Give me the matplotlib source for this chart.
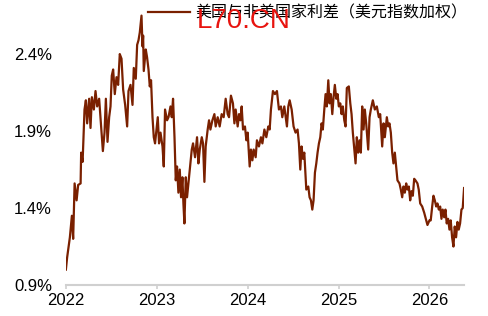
import numpy as np
import pandas as pd
import matplotlib
matplotlib.use('Agg')
import matplotlib.pyplot as plt
import matplotlib.dates as mdates
from matplotlib.ticker import FuncFormatter

plt.rcParams['font.family'] = ['Liberation Sans', 'Noto Sans CJK SC', 'DejaVu Sans']

# time in years after 2022-01-01
t_year = [
    0.000, 0.014, 0.044, 0.066, 0.080, 0.096, 0.118, 0.135, 0.162, 0.168,
    0.184, 0.190, 0.205, 0.220, 0.234, 0.256, 0.271, 0.286, 0.308, 0.326,
    0.344, 0.366, 0.388, 0.407, 0.425, 0.440, 0.458, 0.476, 0.491, 0.505,
    0.520, 0.538, 0.557, 0.575, 0.593, 0.612, 0.630, 0.652, 0.674, 0.689,
    0.711, 0.733, 0.747, 0.769, 0.784, 0.799, 0.813, 0.832, 0.843, 0.850,
    0.857, 0.879, 0.893, 0.909, 0.923, 0.937, 0.953, 0.967, 0.981, 0.997,
    1.011, 1.025, 1.041, 1.063, 1.077, 1.091, 1.113, 1.129, 1.151, 1.165,
    1.179, 1.195, 1.209, 1.223, 1.238, 1.253, 1.267, 1.282, 1.293, 1.304,
    1.319, 1.333, 1.348, 1.363, 1.385, 1.399, 1.421, 1.443, 1.458, 1.473,
    1.495, 1.509, 1.524, 1.538, 1.560, 1.575, 1.590, 1.612, 1.634, 1.648,
    1.670, 1.692, 1.714, 1.736, 1.758, 1.780, 1.795, 1.816, 1.838, 1.854,
    1.868, 1.890, 1.905, 1.920, 1.934, 1.949, 1.970, 1.986, 2.000, 2.022,
    2.036, 2.052, 2.066, 2.088, 2.102, 2.124, 2.146, 2.162, 2.184, 2.205,
    2.227, 2.242, 2.256, 2.278, 2.300, 2.322, 2.344, 2.366, 2.381, 2.403,
    2.418, 2.432, 2.447, 2.462, 2.484, 2.505, 2.527, 2.549, 2.564, 2.579,
    2.593, 2.608, 2.623, 2.645, 2.667, 2.681, 2.696, 2.711, 2.725, 2.740,
    2.755, 2.769, 2.784, 2.799, 2.813, 2.827, 2.843, 2.857, 2.871, 2.887,
    2.901, 2.915, 2.931, 2.945, 2.959, 2.975, 2.989, 3.003, 3.019, 3.033,
    3.047, 3.063, 3.077, 3.091, 3.113, 3.129, 3.143, 3.157, 3.173, 3.187,
    3.201, 3.216, 3.231, 3.245, 3.260, 3.275, 3.289, 3.304, 3.326, 3.341,
    3.355, 3.377, 3.399, 3.421, 3.443, 3.458, 3.480, 3.495, 3.509, 3.531,
    3.546, 3.560, 3.575, 3.590, 3.604, 3.619, 3.634, 3.648, 3.670, 3.685,
    3.700, 3.714, 3.729, 3.744, 3.758, 3.773, 3.788, 3.802, 3.817, 3.832,
    3.846, 3.868, 3.882, 3.898, 3.920, 3.942, 3.964, 3.978, 4.000, 4.014,
    4.030, 4.044, 4.059, 4.074, 4.088, 4.103, 4.118, 4.132, 4.146, 4.162,
    4.176, 4.190, 4.205, 4.220, 4.234, 4.249, 4.264, 4.278, 4.293, 4.308,
    4.322, 4.337, 4.352, 4.366, 4.381,
]

# spread, %
spread = [
    1.00, 1.08, 1.21, 1.35, 1.20, 1.56, 1.45, 1.55, 1.56, 1.76,
    1.70, 1.80, 2.04, 2.10, 1.95, 2.11, 1.92, 2.12, 2.04, 2.16,
    2.06, 2.11, 1.93, 1.77, 1.89, 2.11, 1.83, 1.99, 2.06, 2.26,
    2.30, 2.14, 2.25, 2.20, 2.40, 2.37, 2.17, 2.07, 1.93, 2.16,
    2.20, 2.07, 2.31, 2.24, 2.46, 2.49, 2.54, 2.65, 2.45, 2.52,
    2.29, 2.43, 2.38, 2.30, 2.19, 2.23, 1.99, 1.86, 1.82, 1.91,
    1.99, 1.82, 1.89, 1.80, 1.67, 2.04, 1.97, 1.99, 2.06, 1.99,
    2.11, 1.86, 1.58, 1.67, 1.50, 1.65, 1.47, 1.60, 1.43, 1.30,
    1.60, 1.47, 1.56, 1.65, 1.78, 1.82, 1.73, 1.86, 1.69, 1.78,
    1.86, 1.82, 1.57, 1.80, 1.91, 1.97, 1.91, 1.97, 2.01, 1.93,
    1.99, 1.93, 2.01, 1.99, 2.11, 2.01, 1.99, 2.13, 2.08, 1.95,
    2.04, 1.93, 2.01, 1.97, 2.06, 1.91, 1.93, 1.84, 1.89, 1.67,
    1.78, 1.71, 1.78, 1.73, 1.84, 1.80, 1.86, 1.82, 1.91, 1.86,
    1.93, 1.91, 2.04, 2.16, 2.14, 2.16, 2.04, 2.06, 1.99, 2.06,
    1.99, 1.93, 2.06, 2.10, 2.04, 1.93, 1.89, 1.91, 1.82, 1.65,
    1.80, 1.72, 1.76, 1.52, 1.54, 1.47, 1.45, 1.39, 1.45, 1.63,
    1.69, 1.76, 1.82, 1.86, 1.95, 1.91, 2.04, 2.14, 2.06, 2.23,
    2.08, 2.14, 2.01, 2.12, 2.20, 2.11, 2.14, 2.06, 2.08, 2.01,
    2.06, 1.97, 1.93, 2.18, 2.19, 2.08, 2.01, 1.89, 1.78, 1.69,
    1.86, 1.76, 1.84, 1.76, 2.06, 1.91, 2.04, 1.95, 1.78, 1.99,
    2.04, 2.10, 2.04, 2.06, 1.99, 2.01, 1.80, 1.95, 1.86, 1.99,
    1.93, 1.95, 1.89, 1.76, 1.69, 1.76, 1.67, 1.58, 1.56, 1.52,
    1.47, 1.54, 1.50, 1.56, 1.52, 1.54, 1.45, 1.51, 1.48, 1.59,
    1.58, 1.56, 1.52, 1.43, 1.41, 1.37, 1.32, 1.29, 1.32, 1.32,
    1.41, 1.48, 1.45, 1.41, 1.43, 1.39, 1.41, 1.33, 1.39, 1.34,
    1.39, 1.30, 1.33, 1.26, 1.32, 1.21, 1.15, 1.28, 1.21, 1.31,
    1.26, 1.30, 1.39, 1.40, 1.53,
]

year_ticks = [2022, 2023, 2024, 2025, 2026]
y_ticks = [0.9, 1.4, 1.9, 2.4]
label = '美国与非美国家利差（美元指数加权）'

start = pd.Timestamp('2022-01-01')
dates = start + pd.to_timedelta(np.array(t_year) * 365.25, unit='D')

line_color = '#7A2000'
axis_gray = '#d0d0d0'

fig = plt.figure(figsize=(4.88, 3.16), dpi=100)
ax = fig.add_axes([0.135, 0.098, 0.816, 0.877])

ax.plot(dates, spread, color=line_color, lw=1.6, label=label)

ax.set_ylim(0.9, 2.7)
ax.set_yticks(y_ticks)
ax.yaxis.set_major_formatter(FuncFormatter(lambda v, p: f'{v:.1f}%'))
ax.set_xlim(start, dates[-1])
ax.set_xticks([pd.Timestamp(f'{y}-01-01') for y in year_ticks])
ax.xaxis.set_major_formatter(mdates.DateFormatter('%Y'))

for s in ['top', 'right', 'left']:
    ax.spines[s].set_visible(False)
ax.spines['bottom'].set_color(axis_gray)
ax.spines['bottom'].set_linewidth(1.5)
ax.tick_params(axis='x', colors=axis_gray, length=3, width=1.2, labelcolor='black',
               labelsize=12, pad=3)
ax.tick_params(axis='y', length=0, labelsize=12, pad=10)

ax.legend(loc='upper left', bbox_to_anchor=(0.297, 0.993), bbox_transform=fig.transFigure,
          frameon=False, fontsize=11.5, handlelength=2.6, handletextpad=0.35,
          borderpad=0.2, borderaxespad=0)

# watermark
fig.text(0.404, 0.912, 'L70.CN', color='#e8140f', fontsize=20, ha='left', va='baseline')

fig.savefig('out.png', dpi=100)
